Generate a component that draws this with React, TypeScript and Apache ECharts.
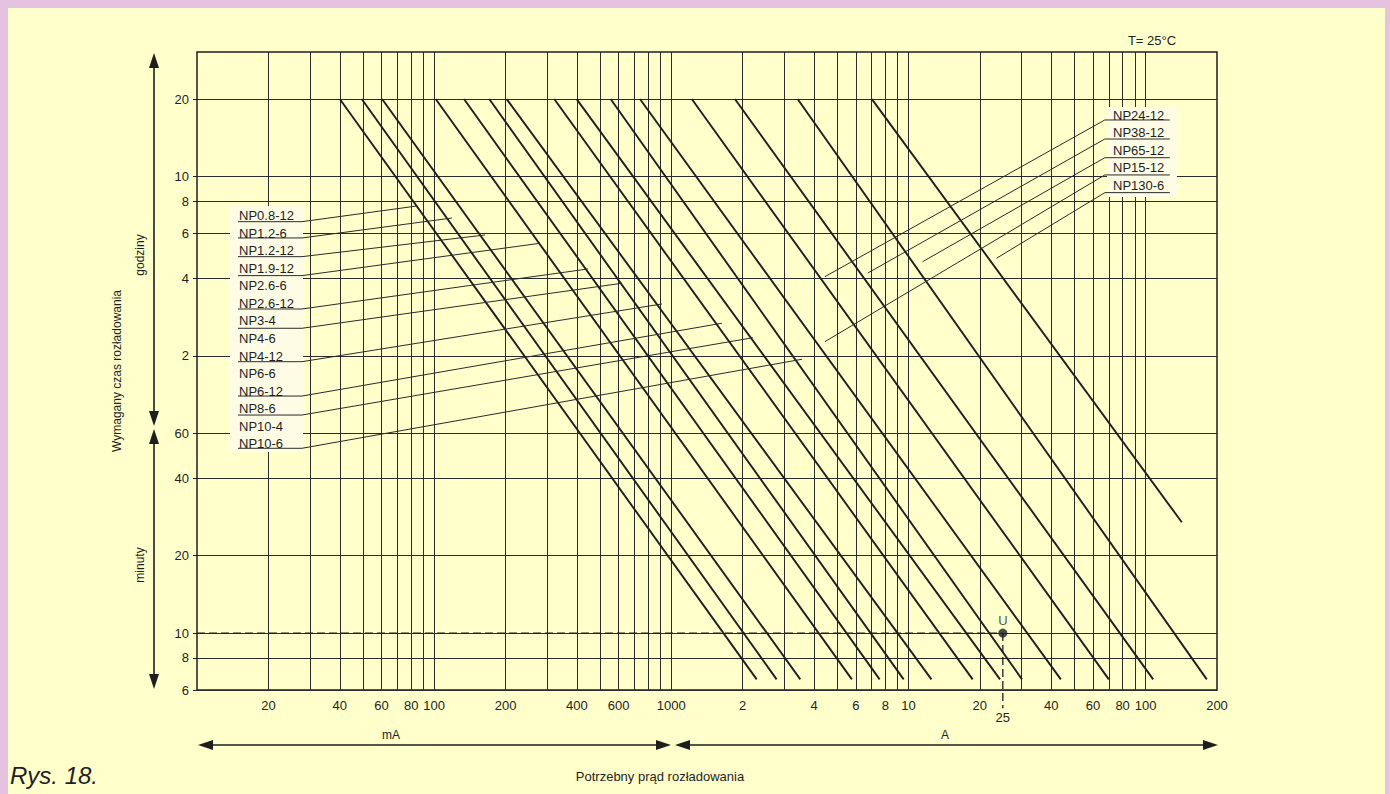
import React, { useEffect, useRef } from 'react';
import * as echarts from 'echarts';

// ---------- data (currents in mA, times in minutes) ----------
const MODELS = ['NP0.8-12', 'NP1.2-6', 'NP1.2-12', 'NP1.9-12', 'NP2.6-12', 'NP3-4', 'NP4-12', 'NP6-12', 'NP8-6', 'NP10-6', 'NP15-12', 'NP24-12', 'NP38-12', 'NP65-12', 'NP130-6'];
const CURRENT_AT_20H = [40, 49.5, 60.3, 101.5, 133.6, 170.7, 202.2, 320.9, 398.9, 554.8, 737.4, 1220, 1854, 3408, 7012];
const CURRENT_AT_END = [2291, 2780, 3499, 5773, 7560, 9545, 12503, 18650, 24330, 30120, 43910, 69970, 107650, 181100, 142100];
const TIME_START = [1200, 1200, 1200, 1200, 1200, 1200, 1200, 1200, 1200, 1200, 1200, 1200, 1200, 1200, 1200];
const TIME_END = [6.6, 6.6, 6.6, 6.6, 6.6, 6.6, 6.6, 6.6, 6.6, 6.6, 6.6, 6.6, 6.6, 6.6, 27];

const LEFT_LABELS = ['NP0.8-12', 'NP1.2-6', 'NP1.2-12', 'NP1.9-12', 'NP2.6-6', 'NP2.6-12', 'NP3-4', 'NP4-6', 'NP4-12', 'NP6-6', 'NP6-12', 'NP8-6', 'NP10-4', 'NP10-6'];
const LEFT_LEADER_ROWS = [0, 1, 2, 3, 5, 6, 8, 10, 11, 13];
const LEFT_UNDERLINE_CURRENT = [14.89, 27.71];
const LEFT_UNDERLINE_TIME = [399.7, 345.4, 292.1, 246.4, 182.7, 153.7, 113.9, 83.7, 70.6, 52.4];
const LEFT_TARGET_CURRENT = [84.6, 118.9, 163.8, 279.3, 445, 619, 912.9, 1634, 2208, 3553];
const LEFT_TARGET_TIME = [460, 413, 354.8, 329.3, 261.6, 230.1, 191.1, 160.8, 141.2, 116.4];

const RIGHT_LABELS = ['NP24-12', 'NP38-12', 'NP65-12', 'NP15-12', 'NP130-6'];
const RIGHT_UNDERLINE_CURRENT = [126500, 67300];
const RIGHT_UNDERLINE_TIME = [994.9, 838.7, 709.4, 607.7, 518.6];
const RIGHT_TARGET_CURRENT = [4443, 6744, 11470, 4443, 23510];
const RIGHT_TARGET_TIME = [244.1, 252.3, 279.2, 136.3, 287.9];

const X_GRID = [20, 30, 40, 50, 60, 70, 80, 90, 100, 200, 300, 400, 500, 600, 700, 800, 900, 1000, 2000, 3000, 4000, 5000, 6000, 7000, 8000, 9000, 10000, 20000, 30000, 40000, 50000, 60000, 70000, 80000, 90000, 100000];
const X_LABELS = [20, 40, 60, 80, 100, 200, 400, 600, 1000, 2000, 4000, 6000, 8000, 10000, 20000, 40000, 60000, 80000, 100000, 200000];
const Y_TICKS = [6, 8, 10, 20, 40, 60, 120, 240, 360, 480, 600, 1200];

const EXAMPLE_CURRENT = 25000;
const EXAMPLE_TIME = 10;
const EXAMPLE_TICK_END = 5.1;

// ---------- styling / layout ----------
const FONT = '"Liberation Sans", Arial, Helvetica, sans-serif';
const INK = '#1e1e1e';
const BG = '#FFFFCC';
const PINK = '#E4C2E0';
const BOX = '#FFFCE6';
const OFF = 8; // chart div offset in page
const p = (v: number) => v - OFF;

function vArrow(x: number, y1: number, y2: number) {
  const hw = 5, hl = 15;
  return [
    { type: 'line', shape: { x1: p(x), y1: p(y1 + 8), x2: p(x), y2: p(y2 - 8) }, style: { stroke: INK, lineWidth: 1.6 } },
    { type: 'polygon', shape: { points: [[p(x), p(y1)], [p(x - hw), p(y1 + hl)], [p(x + hw), p(y1 + hl)]] }, style: { fill: INK } },
    { type: 'polygon', shape: { points: [[p(x), p(y2)], [p(x - hw), p(y2 - hl)], [p(x + hw), p(y2 - hl)]] }, style: { fill: INK } },
  ];
}
function hArrow(y: number, x1: number, x2: number) {
  const hw = 5, hl = 15;
  return [
    { type: 'line', shape: { x1: p(x1 + 8), y1: p(y), x2: p(x2 - 8), y2: p(y) }, style: { stroke: INK, lineWidth: 1.6 } },
    { type: 'polygon', shape: { points: [[p(x1), p(y)], [p(x1 + hl), p(y - hw)], [p(x1 + hl), p(y + hw)]] }, style: { fill: INK } },
    { type: 'polygon', shape: { points: [[p(x2), p(y)], [p(x2 - hl), p(y - hw)], [p(x2 - hl), p(y + hw)]] }, style: { fill: INK } },
  ];
}
function txt(text: string, x: number, y: number, size: number, align = 'center', extra: any = {}) {
  return {
    type: 'text', x: p(x), y: p(y), z: 10, ...extra,
    style: { text, fill: INK, font: `${extra.italic ? 'italic ' : ''}${size}px ${FONT}`, textAlign: align, textVerticalAlign: 'middle', align, verticalAlign: 'middle' },
  };
}

export default function App() {
  const ref = useRef<HTMLDivElement>(null);
  useEffect(() => {
    const chart = echarts.init(ref.current!, null, { renderer: 'svg' });

    const curveSeries = MODELS.map((name, i) => ({
      name, type: 'line', silent: true, showSymbol: false, z: 3,
      data: [[CURRENT_AT_20H[i], TIME_START[i]], [CURRENT_AT_END[i], TIME_END[i]]],
      lineStyle: { color: INK, width: 1.9 },
    }));
    const leftLeaders = LEFT_LEADER_ROWS.map((row, k) => ({
      name: LEFT_LABELS[row] + ' leader', type: 'line', silent: true, showSymbol: false, z: 4,
      data: [[LEFT_UNDERLINE_CURRENT[0], LEFT_UNDERLINE_TIME[k]], [LEFT_UNDERLINE_CURRENT[1], LEFT_UNDERLINE_TIME[k]], [LEFT_TARGET_CURRENT[k], LEFT_TARGET_TIME[k]]],
      lineStyle: { color: '#2a2a2a', width: 1 },
    }));
    const rightLeaders = RIGHT_LABELS.map((nm, k) => ({
      name: nm + ' leader', type: 'line', silent: true, showSymbol: false, z: 4,
      data: [[RIGHT_UNDERLINE_CURRENT[0], RIGHT_UNDERLINE_TIME[k]], [RIGHT_UNDERLINE_CURRENT[1], RIGHT_UNDERLINE_TIME[k]], [RIGHT_TARGET_CURRENT[k], RIGHT_TARGET_TIME[k]]],
      lineStyle: { color: '#2a2a2a', width: 1 },
    }));

    const graphics: any[] = [
      { type: 'rect', z: 1, shape: { x: p(230), y: p(206), width: 73, height: 246 }, style: { fill: BOX } },
      { type: 'rect', z: 1, shape: { x: p(1107), y: p(107), width: 70, height: 90 }, style: { fill: BOX } },
      ...LEFT_LABELS.map((t, i) => txt(t, 239, 215.7 + i * 17.54, 13, 'left')),
      ...RIGHT_LABELS.map((t, i) => txt(t, 1113, 115 + i * 17.5, 13, 'left')),
      ...vArrow(154, 53, 426),
      ...vArrow(154, 429, 689),
      ...hArrow(745, 198, 671),
      ...hArrow(745, 675, 1218),
      txt('godziny', 140, 255, 12, 'center', { rotation: Math.PI / 2 }),
      txt('minuty', 140, 565, 12, 'center', { rotation: Math.PI / 2 }),
      txt('T= 25°C', 1152, 40, 13),
      txt('mA', 391, 735, 12),
      txt('A', 945, 735, 12),
      txt('Potrzebny prąd rozładowania', 660, 776, 13),
      txt('Rys. 18.', 10, 775, 24, 'left', { italic: true }),
    ];

    chart.setOption({
      animation: false,
      backgroundColor: BG,
      textStyle: { fontFamily: FONT },
      grid: { left: p(197), top: p(52), width: 1020, height: 638, show: true, borderColor: INK, borderWidth: 1.5, backgroundColor: 'transparent', containLabel: false, outerBoundsMode: 'none' },
      xAxis: {
        type: 'log', logBase: 10, min: 10, max: 200000,
        axisLine: { show: false },
        axisTick: { show: false, customValues: X_GRID },
        axisLabel: {
          customValues: X_LABELS, margin: 9, color: INK, fontSize: 13, fontFamily: FONT,
          formatter: (v: number) => { const r = Math.round(v); return r > 1000 ? String(Math.round(r / 1000)) : String(r); },
        },
        splitLine: { show: true, lineStyle: { color: '#2b2b2b', width: 1 } },
      },
      yAxis: {
        type: 'log', logBase: 10, min: 6, max: 1830,
        name: 'Wymagany czas rozładowania', nameLocation: 'middle', nameGap: 74,
        nameTextStyle: { color: INK, fontSize: 12, fontFamily: FONT },
        axisLine: { show: false },
        axisTick: { show: true, customValues: Y_TICKS, length: 4, lineStyle: { color: INK } },
        axisLabel: {
          customValues: Y_TICKS, margin: 8, color: INK, fontSize: 13, fontFamily: FONT,
          formatter: (v: number) => { const r = Math.round(v); return r > 60 ? String(Math.round(r / 60)) : String(r); },
        },
        splitLine: { show: true, lineStyle: { color: '#2b2b2b', width: 1 } },
      },
      graphic: { elements: graphics },
      series: [
        ...curveSeries,
        ...leftLeaders,
        ...rightLeaders,
        {
          name: 'example time', type: 'line', silent: true, showSymbol: false, z: 4,
          data: [[10, EXAMPLE_TIME], [EXAMPLE_CURRENT, EXAMPLE_TIME]],
          lineStyle: { color: INK, width: 1.3, type: [8, 4] },
        },
        {
          name: 'example current', type: 'line', silent: true, clip: false, showSymbol: true, symbol: 'circle', symbolSize: 0, z: 4,
          data: [[EXAMPLE_CURRENT, EXAMPLE_TIME], { value: [EXAMPLE_CURRENT, EXAMPLE_TICK_END], label: { show: true, position: 'bottom', distance: 3, formatter: '25', color: INK, fontSize: 13, fontFamily: FONT } }],
          lineStyle: { color: INK, width: 1.3, type: [8, 4] },
        },
        {
          name: 'U', type: 'scatter', silent: true, z: 5,
          data: [[EXAMPLE_CURRENT, EXAMPLE_TIME]], symbolSize: 9, itemStyle: { color: INK },
          label: { show: true, position: 'top', distance: 2, formatter: 'U', color: INK, fontSize: 13, fontFamily: FONT },
        },
      ],
    });
    return () => chart.dispose();
  }, []);

  return (
    <div style={{ position: 'fixed', left: 0, top: 0, width: 1390, height: 794, background: PINK, overflow: 'hidden' }}>
      <div ref={ref} style={{ position: 'absolute', left: OFF, top: OFF, width: 1377, height: 786 }} />
    </div>
  );
}
